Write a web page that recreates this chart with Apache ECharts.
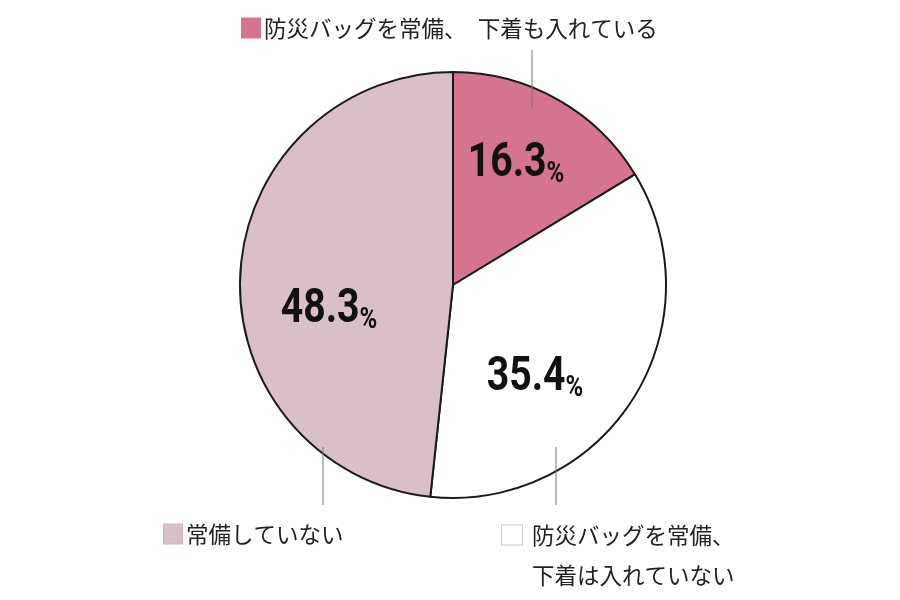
<!DOCTYPE html>
<html>
<head>
<meta charset="utf-8">
<script src="https://cdn.jsdelivr.net/npm/echarts@6/dist/echarts.min.js"></script>
<style>
  html, body { margin: 0; padding: 0; background: #fff; }
  #chart { width: 900px; height: 600px; }
</style>
</head>
<body>
<div id="chart"></div>
<script type="text/javascript">
    // data
    var names = ['防災バッグを常備、　下着も入れている', '防災バッグを常備、\n下着は入れていない', '常備していない'];
    var values = [16.3, 35.4, 48.3];
    var colors = ['#d4748f', '#ffffff', '#d8bfca'];
    var squareBorders = ['#d4748f', '#c8c8c8', '#cdb3be'];

    // where the hand-placed labels sit
    var valuePos = [[516, 164], [535, 378], [329, 310]];
    var namePos = [[242, 28], [502, 555], [164, 534]];
    var leaderX = [532, 556, 323];
    var leaderY = [[108, 50], [447, 505], [447, 505]];

    var numFont = 'Roboto, "Liberation Sans", sans-serif';
    var numSquash = 0.8;   // no condensed face installed, so the value labels get squeezed
    var jpFont = '"Noto Sans CJK JP", sans-serif';

    var numRich = {
        n: { fontFamily: numFont, fontWeight: 'bold', fontSize: 49, fill: '#111', lineHeight: 50 },
        p: { fontFamily: numFont, fontWeight: 'bold', fontSize: 30, fill: '#111', lineHeight: 37, verticalAlign: 'bottom' }
    };
    var nameRich = {
        t: { fontFamily: jpFont, fontSize: 22.5, fill: '#222', lineHeight: 40, padding: [0, 0, 0, 4] },
        t1: { fontFamily: jpFont, fontSize: 22.5, fill: '#222', lineHeight: 40, padding: [0, 0, 0, 10] },
        ind: { width: 20, height: 19 }
    };
    colors.forEach(function (c, i) {
        nameRich['sq' + i] = { width: i === 1 ? 20 : 18, height: 19, backgroundColor: c,
                               borderColor: squareBorders[i], borderWidth: 1 };
    });

    function nameText(i) {
        var t = i === 1 ? 't1' : 't';
        return names[i].split('\n').map(function (line, k) {
            return (k === 0 ? '{sq' + i + '|}' : '{ind|}') + '{' + t + '|' + line + '}';
        }).join('\n');
    }

    var myChart = echarts.init(document.getElementById('chart'));
    var option = {
        animation: false,
        backgroundColor: '#fff',
        series: [
            {
                type: 'pie',
                center: [453, 285],
                radius: 213,
                startAngle: 90,
                clockwise: true,
                silent: true,
                data: values.map(function (v, i) {
                    return { name: names[i], value: v, itemStyle: { color: colors[i] } };
                }),
                itemStyle: { borderColor: '#1a1a1a', borderWidth: 2 },
                label: { show: false },
                labelLine: { show: false }
            },
            {
                // value labels, names and leader lines
                type: 'custom',
                coordinateSystem: 'none',
                silent: true,
                z: 5,
                data: values.map(function (v, i) { return [v, i]; }),
                renderItem: function (params, api) {
                    var i = params.dataIndex;
                    var v = api.value(0);
                    var x = leaderX[i];
                    return {
                        type: 'group',
                        children: [
                            {
                                type: 'line',
                                shape: { x1: x, y1: leaderY[i][0], x2: x, y2: leaderY[i][1] },
                                style: { stroke: '#777', lineWidth: 1 }
                            },
                            {
                                type: 'text',
                                x: valuePos[i][0],
                                y: valuePos[i][1],
                                scaleX: numSquash,
                                style: {
                                    text: '{n|' + v.toFixed(1) + '}{p|%}',
                                    rich: numRich,
                                    align: 'center',
                                    verticalAlign: 'middle'
                                }
                            },
                            {
                                type: 'text',
                                x: namePos[i][0],
                                y: namePos[i][1],
                                style: {
                                    text: nameText(i),
                                    rich: nameRich,
                                    align: 'left',
                                    verticalAlign: 'middle'
                                }
                            }
                        ]
                    };
                }
            }
        ]
    };
    myChart.setOption(option);
</script>
</body>
</html>
